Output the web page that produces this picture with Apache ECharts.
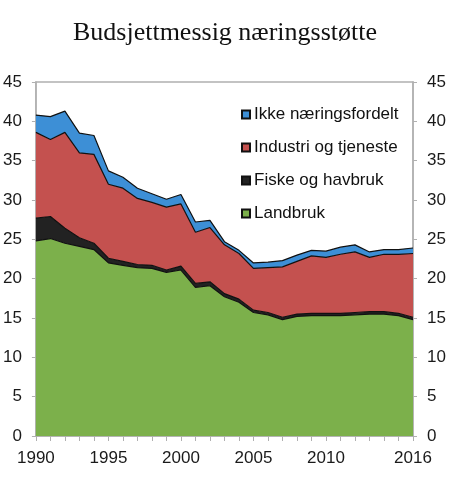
<!DOCTYPE html>
<html>
<head>
<meta charset="utf-8">
<script src="https://cdn.jsdelivr.net/npm/echarts@6/dist/echarts.min.js"></script>
<style>
  html, body { margin: 0; padding: 0; background: #fff; }
  #chart { width: 450px; height: 488px; }
</style>
</head>
<body>
<div id="chart"></div>
<script>
    var years = ['1990','1991','1992','1993','1994','1995','1996','1997','1998','1999',
                 '2000','2001','2002','2003','2004','2005','2006','2007','2008','2009',
                 '2010','2011','2012','2013','2014','2015','2016'];
    var shownYears = ['1990','1995','2000','2005','2010','2016'];
    var landbruk = [24.8, 25.1, 24.5, 24.1, 23.7, 22.0, 21.7, 21.4, 21.3, 20.8,
                    21.1, 18.9, 19.1, 17.7, 17.0, 15.7, 15.4, 14.8, 15.2, 15.3,
                    15.3, 15.3, 15.4, 15.5, 15.5, 15.3, 14.8];
    var fiske    = [2.9, 2.8, 1.9, 1.1, 0.8, 0.6, 0.5, 0.4, 0.4, 0.3,
                    0.5, 0.5, 0.5, 0.4, 0.4, 0.3, 0.3, 0.3, 0.3, 0.3,
                    0.3, 0.3, 0.3, 0.3, 0.3, 0.3, 0.3];
    var industri = [10.9, 9.8, 12.2, 10.8, 11.3, 9.4, 9.3, 8.4, 8.0, 8.0,
                    7.9, 6.5, 6.9, 6.2, 5.8, 5.3, 5.7, 6.4, 6.7, 7.3,
                    7.1, 7.5, 7.7, 6.9, 7.3, 7.5, 8.1];
    var ikke     = [2.2, 2.9, 2.7, 2.5, 2.4, 1.7, 1.4, 1.3, 1.1, 1.0,
                    1.2, 1.3, 0.9, 0.4, 0.4, 0.7, 0.7, 0.8, 0.8, 0.7,
                    0.8, 0.9, 0.9, 0.7, 0.6, 0.6, 0.7];
    var yTicks = [0, 5, 10, 15, 20, 25, 30, 35, 40, 45];

    var chart = echarts.init(document.getElementById('chart'));

    function areaSeries(name, data, color) {
        return {
            name: name,
            type: 'line',
            stack: 'total',
            data: data,
            symbol: 'none',
            smooth: false,
            lineStyle: { color: '#111', width: 1.2 },
            areaStyle: { color: color, opacity: 1 },
            itemStyle: { color: color, borderColor: '#111', borderWidth: 0.8 },
            emphasis: { disabled: true }
        };
    }

    var axisGray = '#b0b0b0';
    function yAxis(pos) {
        return {
            type: 'value',
            position: pos,
            min: yTicks[0],
            max: yTicks[yTicks.length - 1],
            interval: 5,
            axisLine: { show: true, lineStyle: { color: axisGray, width: 1.5 } },
            axisTick: { show: true, length: 4, lineStyle: { color: axisGray } },
            splitLine: { show: false },
            axisLabel: { color: '#1a1a1a', fontSize: 17, fontFamily: 'Liberation Sans', margin: 14 }
        };
    }

    var option = {
        animation: false,
        title: {
            text: 'Budsjettmessig næringsstøtte',
            left: 'center',
            top: 15,
            textStyle: { fontFamily: 'Liberation Serif', fontWeight: 'normal', fontSize: 26, color: '#111' }
        },
        legend: {
            orient: 'vertical',
            left: 236,
            top: 101,
            itemWidth: 8,
            itemHeight: 8,
            itemGap: 16,
            icon: 'rect',
            data: ['Ikke næringsfordelt', 'Industri og tjeneste', 'Fiske og havbruk', 'Landbruk'],
            textStyle: { fontFamily: 'Liberation Sans', fontSize: 17, color: '#111', padding: [0, 0, 0, -1] }
        },
        grid: {
            left: 34, right: 37, top: 82, bottom: 52,
            show: true,
            borderColor: axisGray,
            borderWidth: 1.5
        },
        xAxis: {
            type: 'category',
            boundaryGap: false,
            data: years,
            axisLine: { show: true, lineStyle: { color: axisGray, width: 1.5 } },
            axisTick: { show: true, length: 5, interval: 0, lineStyle: { color: axisGray } },
            axisLabel: {
                color: '#1a1a1a', fontSize: 17, fontFamily: 'Liberation Sans', margin: 14,
                interval: function (i, v) { return shownYears.indexOf(v) >= 0; }
            }
        },
        yAxis: [yAxis('left'), yAxis('right')],
        series: [
            areaSeries('Landbruk', landbruk, '#7CB04B'),
            areaSeries('Fiske og havbruk', fiske, '#222222'),
            areaSeries('Industri og tjeneste', industri, '#C4514F'),
            areaSeries('Ikke næringsfordelt', ikke, '#3D8FD6')
        ]
    };

    chart.setOption(option);
</script>
</body>
</html>
